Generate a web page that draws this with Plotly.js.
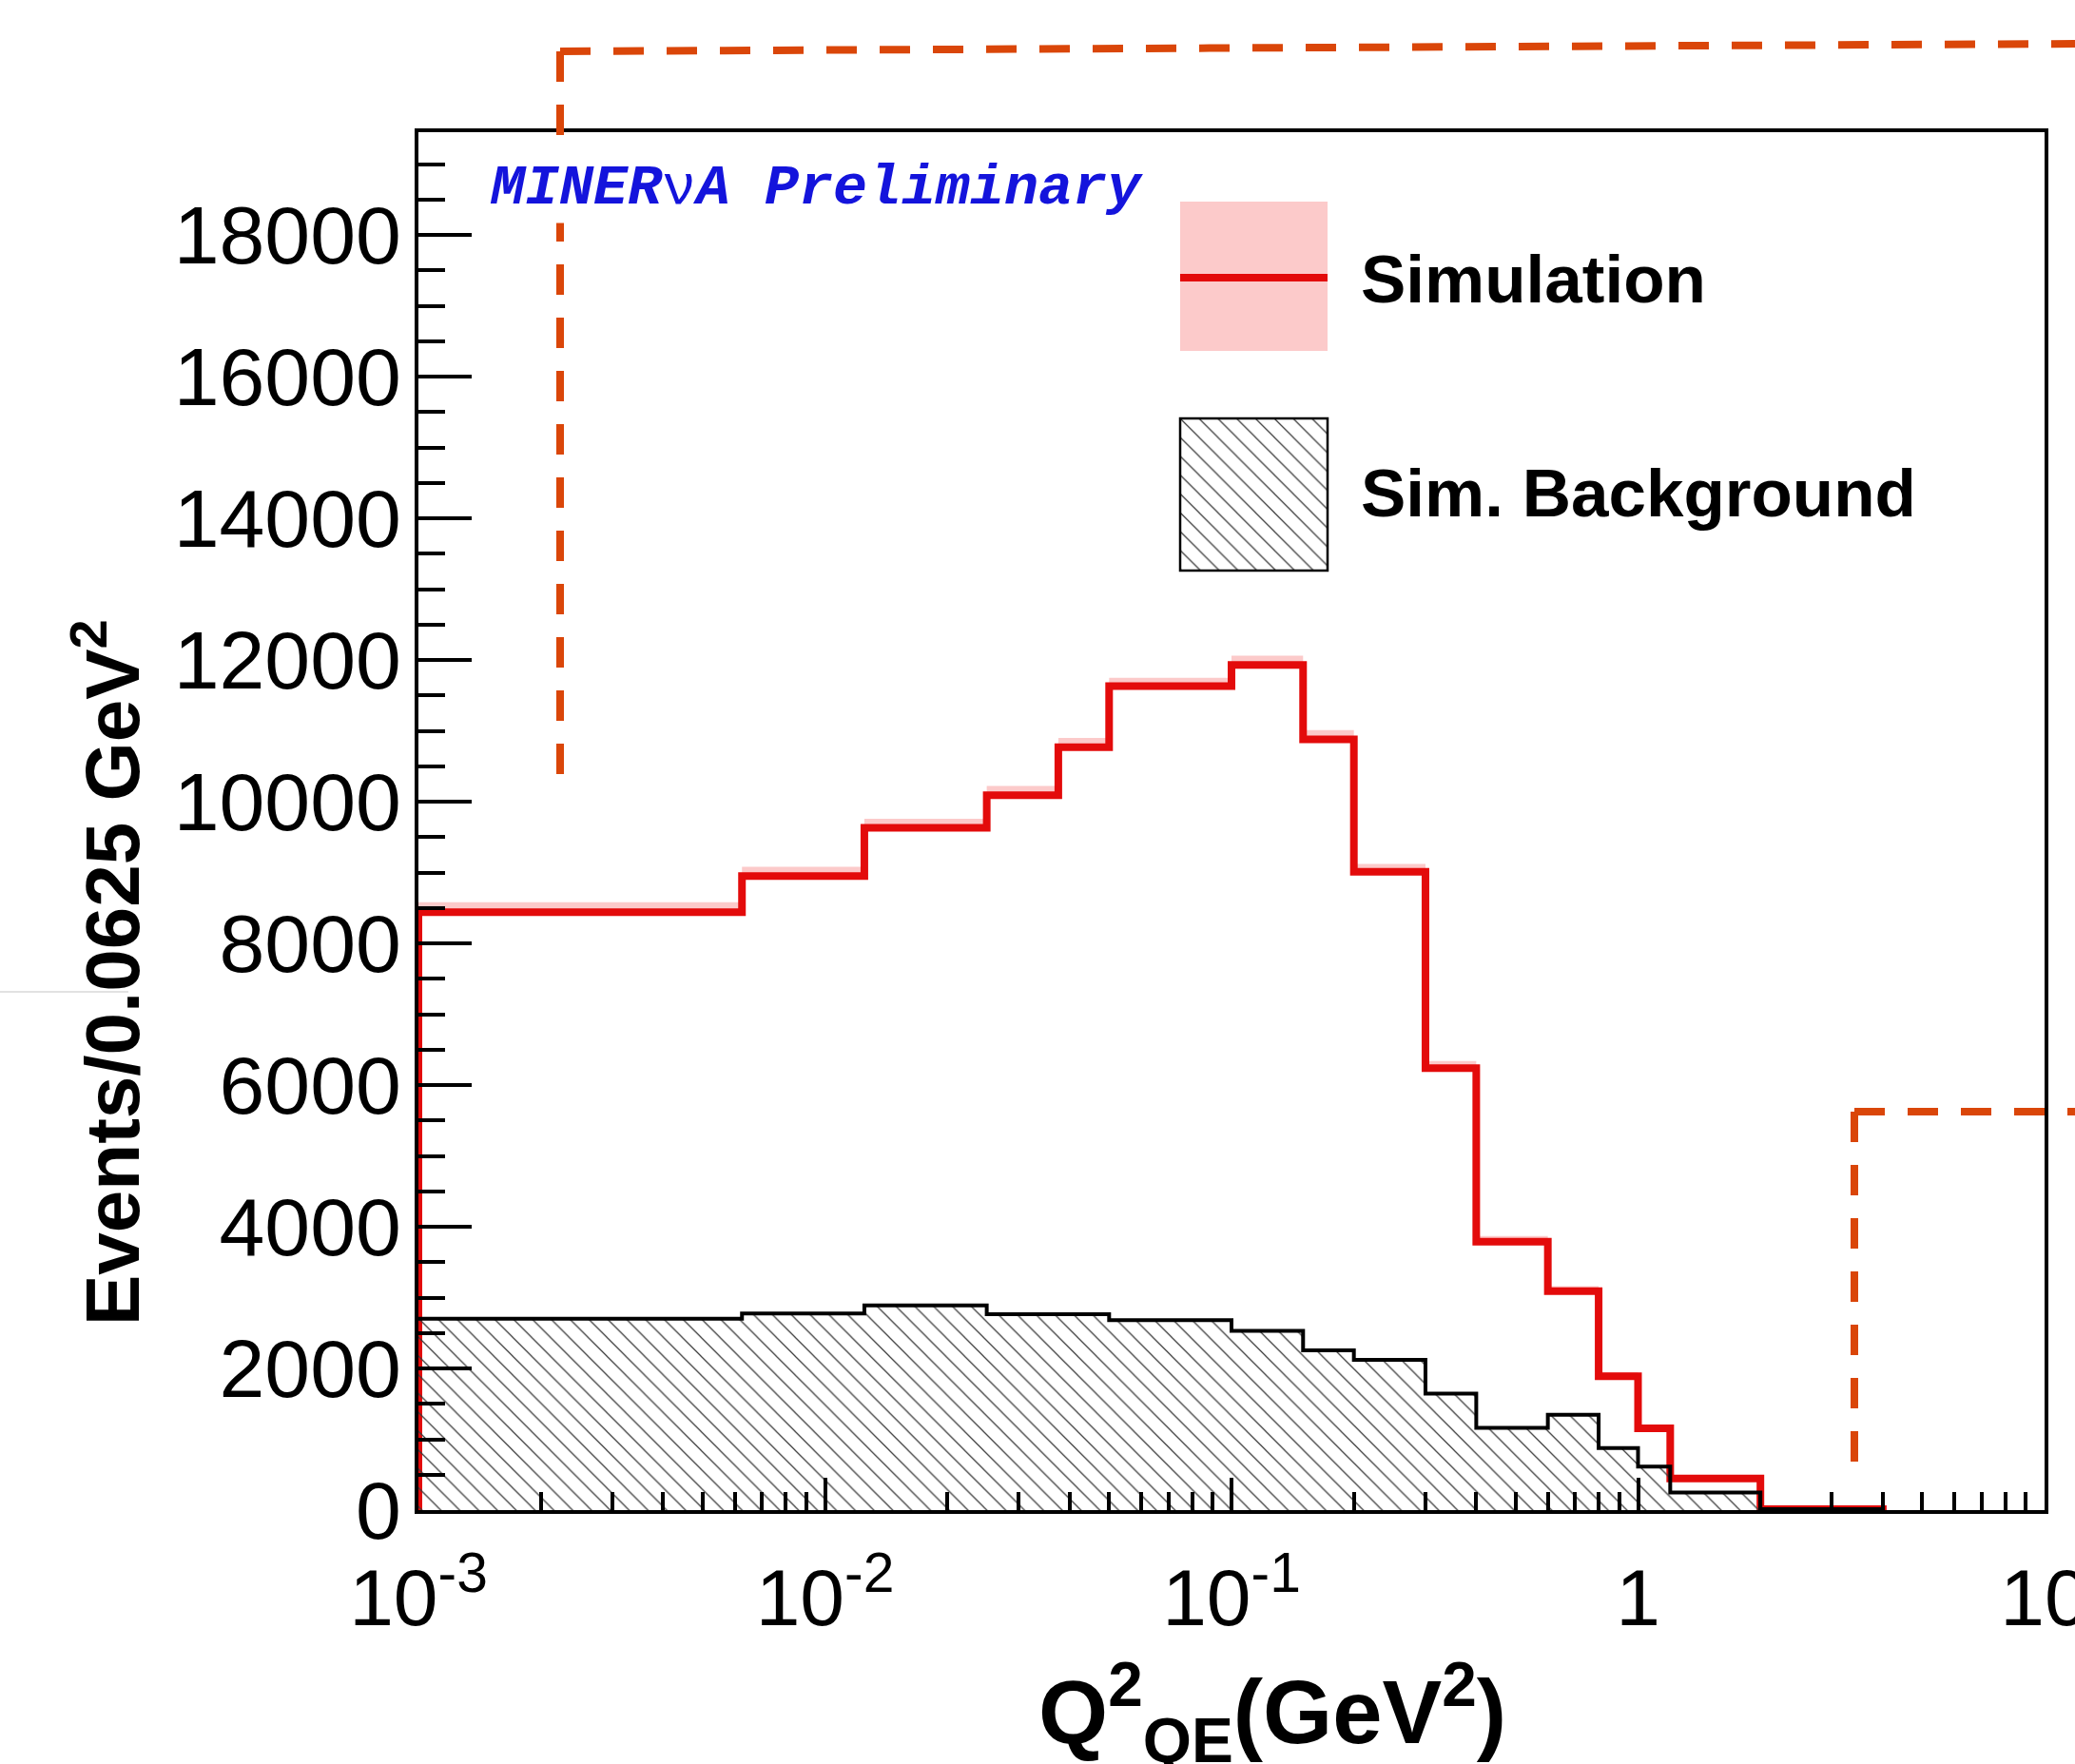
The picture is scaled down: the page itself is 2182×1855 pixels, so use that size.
<!DOCTYPE html>
<html>
<head>
<meta charset="utf-8">
<script src="https://cdn.plot.ly/plotly-3.0.1.min.js"></script>
<style>html,body{margin:0;padding:0;background:#fff;}</style>
</head>
<body>
<div id="chart" style="width:2182px;height:1855px;"></div>
<script>
// ---- data ----
const binEdges   = [0, 0.00625, 0.0125, 0.025, 0.0375, 0.05, 0.1, 0.15, 0.2, 0.3, 0.4, 0.6, 0.8, 1.0, 1.2, 2.0, 4.0];
const simulation = [8440, 8950, 9630, 10090, 10770, 11630, 11930, 10880, 9010, 6240, 3790, 3090, 1890, 1155, 445, 15];
const simError   = [140, 130, 130, 130, 130, 120, 130, 130, 110, 100, 80, 70, 60, 50, 30, 5];
const background = [2700, 2775, 2890, 2765, 2765, 2680, 2530, 2255, 2120, 1644, 1160, 1345, 875, 615, 250, 15];
const xTickVals  = [0.001, 0.01, 0.1, 1, 10];
const xTickText  = ['10<sup>-3</sup>', '10<sup>-2</sup>', '10<sup>-1</sup>', '1', '10'];
const seriesNames = ['Simulation', 'Sim. Background'];

const XMIN = 1e-3;      // axis start (log scale)
const YMAX = 19450;

// step path built from bin edges and contents
function stepPath(edges, vals, closeStart, closeEnd) {
  const xs = [], ys = [];
  const e = edges.map(v => Math.max(v, XMIN));
  if (closeStart) { xs.push(e[0]); ys.push(0); }
  for (let i = 0; i < vals.length; i++) {
    xs.push(e[i]); ys.push(vals[i]);
    xs.push(e[i + 1]); ys.push(vals[i]);
  }
  if (closeEnd) { xs.push(e[e.length - 1]); ys.push(0); }
  return {x: xs, y: ys};
}

const upperVals = simulation.map((v, i) => v + simError[i]);
const bandLo = stepPath(binEdges, simulation, false, false);
const bandHi = stepPath(binEdges, upperVals, false, false);
const simLine = stepPath(binEdges, simulation, true, true);
const bkgLine = stepPath(binEdges, background, false, true);

// minor ticks for the log axis: 2..9 in each decade
const minorX = [];
for (let d = -3; d < 1; d++) for (let k = 2; k <= 9; k++) minorX.push(k * Math.pow(10, d));

const RED = '#e30b0b', PINK = '#fccaca', ORANGE = '#da4609';
const SANS = 'Liberation Sans, Arial, Helvetica, sans-serif';
const HATCH = {shape: '\\', size: 14, solidity: 0.09, fgcolor: '#3a3a3a', fgopacity: 1, bgcolor: 'rgba(255,255,255,0)'};

const traces = [
  {x: bandLo.x, y: bandLo.y, mode: 'lines', line: {width: 0, color: PINK}, hoverinfo: 'skip', showlegend: false},
  {x: bandHi.x, y: bandHi.y, mode: 'lines', line: {width: 0, color: PINK}, fill: 'tonexty', fillcolor: PINK, hoverinfo: 'skip', showlegend: false},
  {x: simLine.x, y: simLine.y, mode: 'lines', name: seriesNames[0], line: {color: RED, width: 8}, showlegend: false},
  {x: bkgLine.x, y: bkgLine.y, mode: 'lines', name: seriesNames[1], line: {color: '#000', width: 4},
   fill: 'tozeroy', fillcolor: 'rgba(0,0,0,0)', fillpattern: HATCH, showlegend: false},
  // legend swatch for the background (own small axes)
  {x: [0, 1, 1, 0, 0], y: [0, 0, 1, 1, 0], xaxis: 'x2', yaxis: 'y2', mode: 'lines', line: {width: 0, color: '#000'},
   fill: 'toself', fillcolor: 'rgba(0,0,0,0)', fillpattern: HATCH, hoverinfo: 'skip', showlegend: false}
];

// plot area in pixels: x 440..2150, y 139..1588
const L = 440, R = 2150, T = 139, B = 1588;
const px = v => (v - L) / (R - L);
const py = v => (B - v) / (B - T);

const layout = {
  width: 2182, height: 1855,
  margin: {l: L, r: 2182 - R, t: T, b: 1855 - B, pad: 0},
  paper_bgcolor: '#fff', plot_bgcolor: '#fff',
  showlegend: false,
  xaxis: {
    type: 'log', range: [-3, 1], showgrid: false, zeroline: false,
    showline: true, linecolor: '#000', linewidth: 4, mirror: true,
    ticks: 'inside', ticklen: 34, tickwidth: 4, tickcolor: '#000',
    tickmode: 'array', tickvals: xTickVals, ticktext: xTickText,
    tickfont: {family: SANS, size: 84, color: '#000'},
    ticklabelstandoff: 16, ticklabeloverflow: 'allow',
    minor: {tickmode: 'array', tickvals: minorX, ticks: 'inside', ticklen: 19, tickwidth: 4, tickcolor: '#000', showgrid: false}
  },
  yaxis: {
    range: [0, YMAX], showgrid: false, zeroline: false,
    showline: true, linecolor: '#000', linewidth: 4, mirror: true,
    ticks: 'inside', ticklen: 56, tickwidth: 4, tickcolor: '#000',
    tick0: 0, dtick: 2000, tickformat: 'd',
    tickfont: {family: SANS, size: 86, color: '#000'},
    ticklabelstandoff: -3,
    minor: {dtick: 500, ticks: 'inside', ticklen: 28, tickwidth: 4, tickcolor: '#000', showgrid: false}
  },
  xaxis2: {domain: [px(1241), px(1396)], range: [0, 1], visible: false, fixedrange: true, anchor: 'y2'},
  yaxis2: {domain: [py(600), py(440)], range: [0, 1], visible: false, fixedrange: true, anchor: 'x2'},
  shapes: [
    // legend: simulation swatch
    {type: 'rect', xref: 'paper', yref: 'paper', x0: px(1241), x1: px(1396), y0: py(369), y1: py(212), fillcolor: PINK, line: {width: 0}, layer: 'below'},
    {type: 'line', xref: 'paper', yref: 'paper', x0: px(1241), x1: px(1396), y0: py(292), y1: py(292), line: {color: RED, width: 8}},
    // legend: background swatch border
    {type: 'rect', xref: 'paper', yref: 'paper', x0: px(1241), x1: px(1396), y0: py(600), y1: py(440), line: {color: '#000', width: 2.5}},
    // orange dashed call-out boxes
    {type: 'line', xref: 'paper', yref: 'paper', x0: px(589), x1: px(2190), y0: py(54), y1: py(46), line: {color: ORANGE, width: 8, dash: '32px,24px'}},
    {type: 'line', xref: 'paper', yref: 'paper', x0: px(589), x1: px(589), y0: py(54), y1: py(818), line: {color: ORANGE, width: 8, dash: '32px,24px'}},
    {type: 'line', xref: 'paper', yref: 'paper', x0: px(1950), x1: px(2190), y0: py(1169), y1: py(1169), line: {color: ORANGE, width: 8, dash: '32px,24px'}},
    {type: 'line', xref: 'paper', yref: 'paper', x0: px(1950), x1: px(1950), y0: py(1169), y1: py(1543), line: {color: ORANGE, width: 8, dash: '32px,24px'}},
    // faint grey line at the left edge
    {type: 'line', xref: 'paper', yref: 'paper', x0: px(0), x1: px(135), y0: py(1043), y1: py(1043), line: {color: '#d9d9d9', width: 1.5}}
  ],
  annotations: [
    {xref: 'paper', yref: 'paper', x: px(512), y: py(198), xanchor: 'left', yanchor: 'middle', showarrow: false,
     bgcolor: '#fff', borderpad: 2,
     text: "MINER<span style='font-style:normal;font-weight:normal'>ν</span>A Preliminary",
     font: {family: 'Liberation Mono, Courier New, monospace', size: 60, color: '#1414dc', weight: 'bold', style: 'italic'}},
    {xref: 'paper', yref: 'paper', x: px(1429), y: py(294), xanchor: 'left', yanchor: 'middle', showarrow: false,
     text: seriesNames[0], font: {family: SANS, size: 71, color: '#000', weight: 'bold'}},
    {xref: 'paper', yref: 'paper', x: px(1429), y: py(518), xanchor: 'left', yanchor: 'middle', showarrow: false,
     text: seriesNames[1], font: {family: SANS, size: 71, color: '#000', weight: 'bold'}},
    {xref: 'paper', yref: 'paper', x: px(112), y: py(1023), xanchor: 'center', yanchor: 'middle', showarrow: false, textangle: -90,
     text: 'Events/0.0625 GeV<sup>2</sup>', font: {family: SANS, size: 80, color: '#000', weight: 'bold'}},
    {xref: 'paper', yref: 'paper', x: px(1338), y: py(1800), xanchor: 'center', yanchor: 'middle', showarrow: false,
     text: 'Q<sup>2</sup><sub>QE</sub>(GeV<sup>2</sup>)', font: {family: SANS, size: 94, color: '#000', weight: 'bold'}}
  ]
};

Plotly.newPlot('chart', traces, layout, {staticPlot: true, displayModeBar: false});
</script>
</body>
</html>
